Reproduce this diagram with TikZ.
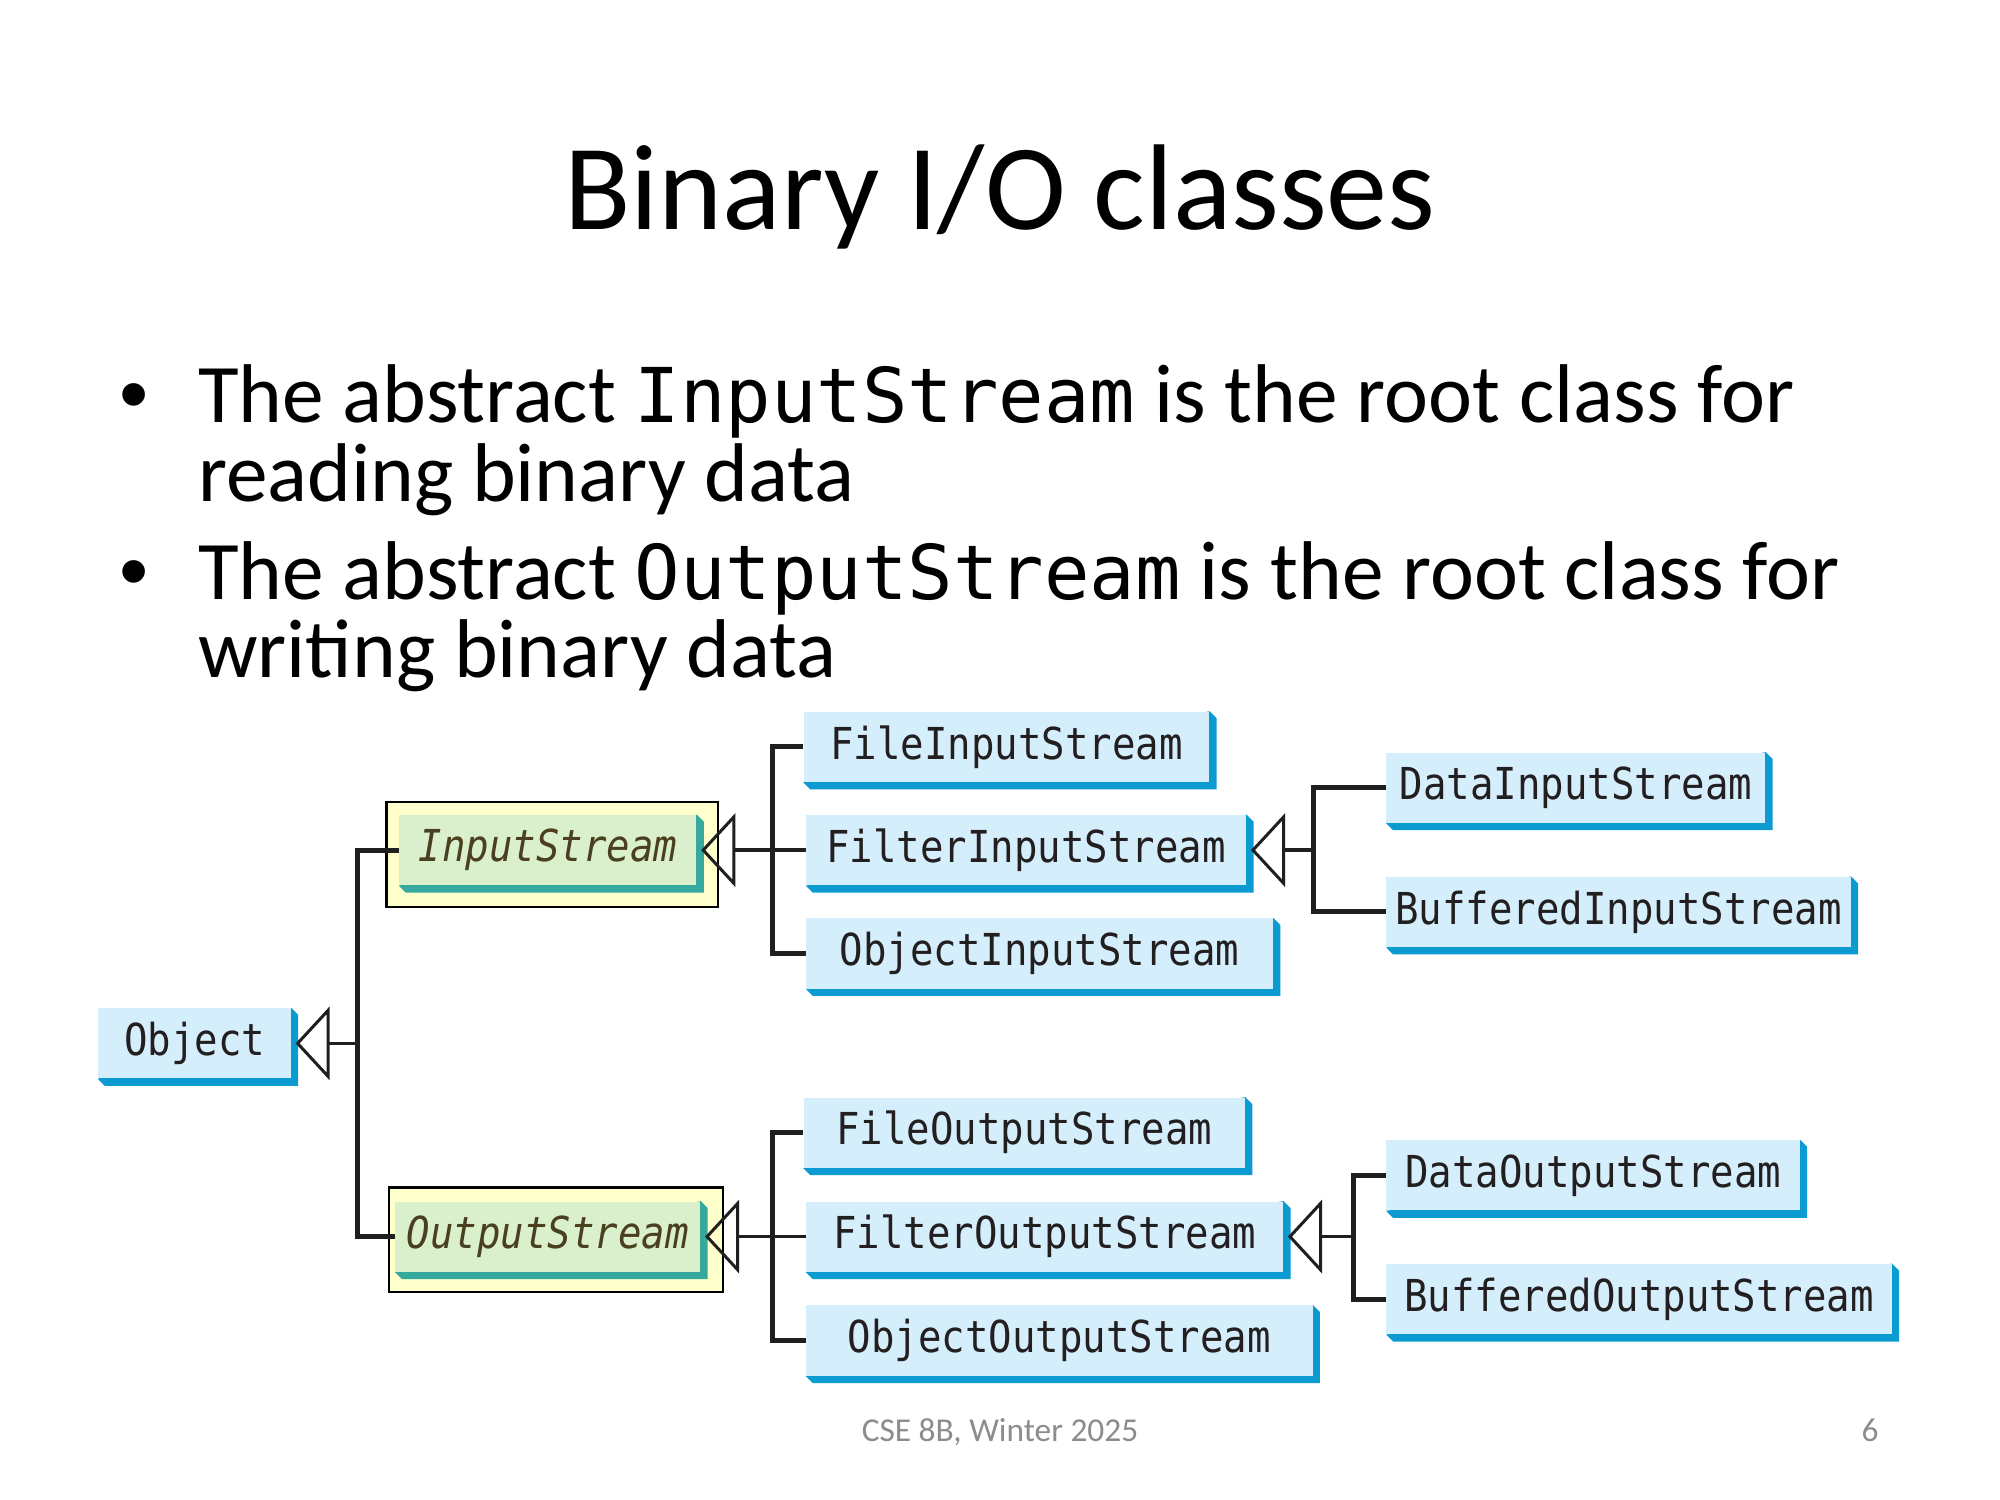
\documentclass[tikz,border=0pt]{standalone}
\usepackage{fontspec}
\setmainfont{Carlito}
\newfontfamily\codefont{DejaVu Sans Mono}
\newfontfamily\clsfont[FakeStretch=0.887]{DejaVu Sans Mono}
\newfontfamily\dotfont{Liberation Sans}
\usetikzlibrary{calc,backgrounds}

% one drawing unit
\newdimen\un \un=0.6378pt

\pgfdeclarelayer{highlight}
\pgfsetlayers{highlight,background,main}

\definecolor{boxblue}{HTML}{D5EEFB}
\definecolor{shblue}{HTML}{0B9BD0}
\definecolor{boxgreen}{HTML}{DAF0CD}
\definecolor{shteal}{HTML}{35A99D}
\definecolor{hilite}{HTML}{FFFFCC}
\definecolor{clstext}{HTML}{231F20}
\definecolor{abstext}{HTML}{4A3F1F}
\definecolor{footgray}{HTML}{8C8C8C}

\tikzset{
  cls/.style={fill=boxblue, text=clstext, font={\clsfont\fontsize{22}{26}\selectfont},
              inner sep=0pt, minimum height=55*\un, anchor=center},
  abscls/.style={cls, fill=boxgreen, text=abstext,
              font={\clsfont\itshape\fontsize{22}{26}\selectfont}},
  hl/.style={draw=black, line width=1.1pt, fill=hilite, inner sep=0pt},
  bar/.style={draw=black!88, line width=2.5pt, line join=miter},
  stub/.style={draw=black!88, line width=1.8pt},
  tri/.style={draw=black!88, line width=1.5pt, line join=miter},
  body/.style={font={\fontsize{41.67}{50}\selectfont}, inner sep=0pt, anchor=base west},
  bulletmark/.style={font={\dotfont\fontsize{41.67}{50}\selectfont}, inner sep=0pt, anchor=base west},
}

% bevelled drop shadow below and right of a class box
\newcommand\clsshadow[2]{%
  \fill[#2] (#1.north east) -- ++(5.5,5.5) -- ($(#1.south east)+(5.5,5.5)$)
    -- ($(#1.south west)+(5.5,5.5)$) -- (#1.south west) -- cycle;}
% open generalization triangle on the east side of a class box
\newcommand\gentri[1]{%
  \draw[tri] ($(#1.east)+(5,0)$) -- ($(#1.east)+(29,-26)$)
    -- ($(#1.east)+(29,26)$) -- cycle;}
\newcommand\code[1]{{\codefont\fontsize{37.8}{45}\selectfont #1}}

\begin{document}
\begin{tikzpicture}[x=\un, y=-\un]
\begin{pgfonlayer}{highlight}
  \fill[white] (0,0) rectangle (1568,1176);
  \node[hl, minimum width=260*\un, minimum height=82*\un] (isy) at (433,670) {};
  \node[hl, minimum width=262*\un, minimum height=82*\un] (osy) at (436,972) {};
\end{pgfonlayer}
\useasboundingbox (0,0) rectangle (1568,1176);

% title
\node[anchor=base, inner sep=0pt, font={\fontsize{61}{73}\selectfont}] (title) at (784,180) {Binary I/O classes};

% bullets
\node[bulletmark] (dot1) at (93,331) {•};
\node[body] (l1) at (155,331) {The abstract \code{InputStream} is the root class for};
\node[body] (l2) at (155,393) {reading binary data};
\node[bulletmark] (dot2) at (93,470) {•};
\node[body] (l3) at (155,470) {The abstract \code{OutputStream} is the root class for};
\node[body] (l4) at (155,531) {writing binary data};

% class boxes
\node[cls, minimum width=151*\un] (obj) at (152.5,818) {Object};
\node[abscls, minimum width=233*\un] (is) at (429.5,666.5) {InputStream};
\node[abscls, minimum width=239*\un] (os) at (429.5,969.5) {OutputStream};

\node[cls, minimum width=318*\un] (fis) at (789,585.5) {FileInputStream};
\node[cls, minimum width=345*\un] (filis) at (804.5,666.5) {FilterInputStream};
\node[cls, minimum width=366*\un] (ois) at (815,747.5) {ObjectInputStream};
\node[cls, minimum width=297*\un] (dis) at (1235.5,617.5) {DataInputStream};
\node[cls, minimum width=364*\un] (bis) at (1269,715) {BufferedInputStream};

\node[cls, minimum width=346*\un] (fos) at (803,888) {FileOutputStream};
\node[cls, minimum width=374*\un] (filos) at (819,969.5) {FilterOutputStream};
\node[cls, minimum width=397*\un] (oos) at (830.5,1051) {ObjectOutputStream};
\node[cls, minimum width=324*\un] (dos) at (1249,921.5) {DataOutputStream};
\node[cls, minimum width=396*\un] (bos) at (1285,1018.5) {BufferedOutputStream};

\begin{pgfonlayer}{background}
  \foreach \n in {obj,fis,filis,ois,dis,bis,fos,filos,oos,dos,bos}
    {\clsshadow{\n}{shblue}}
  \foreach \n in {is,os} {\clsshadow{\n}{shteal}}
\end{pgfonlayer}

% junction points of the inheritance trees
\coordinate (b0) at (280,818);
\coordinate (b1) at (606,666.5);
\coordinate (b2) at (1030,666.5);
\coordinate (b3) at (606,969.5);
\coordinate (b4) at (1061,969.5);

% Object
\draw[bar] (is.west) -| (b0) |- (os.west);
\draw[stub] ($(obj.east)+(29,0)$) -- (b0);
\gentri{obj}

% InputStream
\draw[bar] (fis.west) -| (b1) |- (ois.west);
\draw[stub] ($(is.east)+(29,0)$) -- (filis.west);
\gentri{is}

% FilterInputStream
\draw[bar] (dis.west) -| (b2) |- (bis.west);
\draw[stub] ($(filis.east)+(29,0)$) -- (b2);
\gentri{filis}

% OutputStream
\draw[bar] (fos.west) -| (b3) |- (oos.west);
\draw[stub] ($(os.east)+(29,0)$) -- (filos.west);
\gentri{os}

% FilterOutputStream
\draw[bar] (dos.west) -| (b4) |- (bos.west);
\draw[stub] ($(filos.east)+(29,0)$) -- (b4);
\gentri{filos}

% footer
\node[anchor=base, inner sep=0pt, text=footgray, font={\fontsize{16.7}{20}\selectfont}] (foot) at (784,1130) {CSE 8B, Winter 2025};
\node[anchor=base east, inner sep=0pt, text=footgray, font={\fontsize{16.7}{20}\selectfont}] (pg) at (1473,1130) {6};
\end{tikzpicture}
\end{document}
